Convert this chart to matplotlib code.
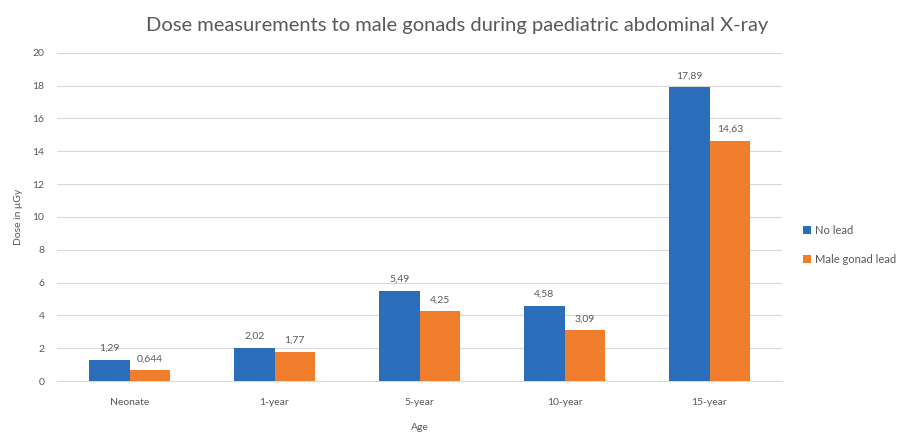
import matplotlib
matplotlib.use("Agg")
import matplotlib.pyplot as plt
import numpy as np

plt.rcParams['font.family'] = ['Lato', 'DejaVu Sans']

categories = ["Neonate", "1-year", "5-year", "10-year", "15-year"]
no_lead = [1.29, 2.02, 5.49, 4.58, 17.89]
male_gonad_lead = [0.644, 1.77, 4.25, 3.09, 14.63]
no_lead_labels = ["1,29", "2,02", "5,49", "4,58", "17,89"]
gonad_labels = ["0,644", "1,77", "4,25", "3,09", "14,63"]
series_names = ["No lead", "Male gonad lead"]
y_ticks = [0, 2, 4, 6, 8, 10, 12, 14, 16, 18, 20]

blue = "#2A6EBB"
orange = "#F07D2C"
text_col = "#595959"

fig = plt.figure(figsize=(9.2, 4.33), dpi=100)
ax = fig.add_axes([0.062, 0.120, 0.788, 0.758])

x = np.arange(len(categories))
w = 0.28
b1 = ax.bar(x - w / 2, no_lead, width=w, color=blue, label=series_names[0], zorder=3)
b2 = ax.bar(x + w / 2, male_gonad_lead, width=w, color=orange, label=series_names[1], zorder=3)

for bars, labels in ((b1, no_lead_labels), (b2, gonad_labels)):
    for rect, lab in zip(bars, labels):
        ax.annotate(lab, (rect.get_x() + rect.get_width() / 2, rect.get_height()),
                    xytext=(0, 5), textcoords="offset points", ha="center", va="bottom",
                    fontsize=7.5, color=text_col)

ax.set_xlim(-0.5, len(categories) - 0.5)
ax.set_ylim(0, 20)
ax.set_yticks(y_ticks)
ax.set_yticklabels([str(t) for t in y_ticks], fontsize=7.5, color=text_col)
ax.set_xticks(x)
ax.set_xticklabels(categories, fontsize=7.5, color=text_col)
ax.tick_params(axis="y", length=0, pad=9)
ax.tick_params(axis="x", length=0, pad=12)
ax.grid(axis="y", color="#D9D9D9", linewidth=0.8, zorder=0)
for s in ("top", "right", "left"):
    ax.spines[s].set_visible(False)
ax.spines["bottom"].set_color("#D9D9D9")

ax.set_xlabel("Age", fontsize=7.5, color=text_col, labelpad=12)
ax.set_ylabel("Dose in μGy", fontsize=7.5, color=text_col, labelpad=7)
fig.text(0.497, 0.940, "Dose measurements to male gonads during paediatric abdominal X-ray",
         ha="center", va="center", fontsize=14.5, color=text_col)

fig.legend(handles=[b1, b2], labels=series_names, loc="center left",
           bbox_to_anchor=(0.862, 0.435), frameon=False, fontsize=8,
           handlelength=0.7, handleheight=0.7, handletextpad=0.4,
           labelcolor=text_col, labelspacing=1.6)

fig.savefig("out.png", dpi=100)
